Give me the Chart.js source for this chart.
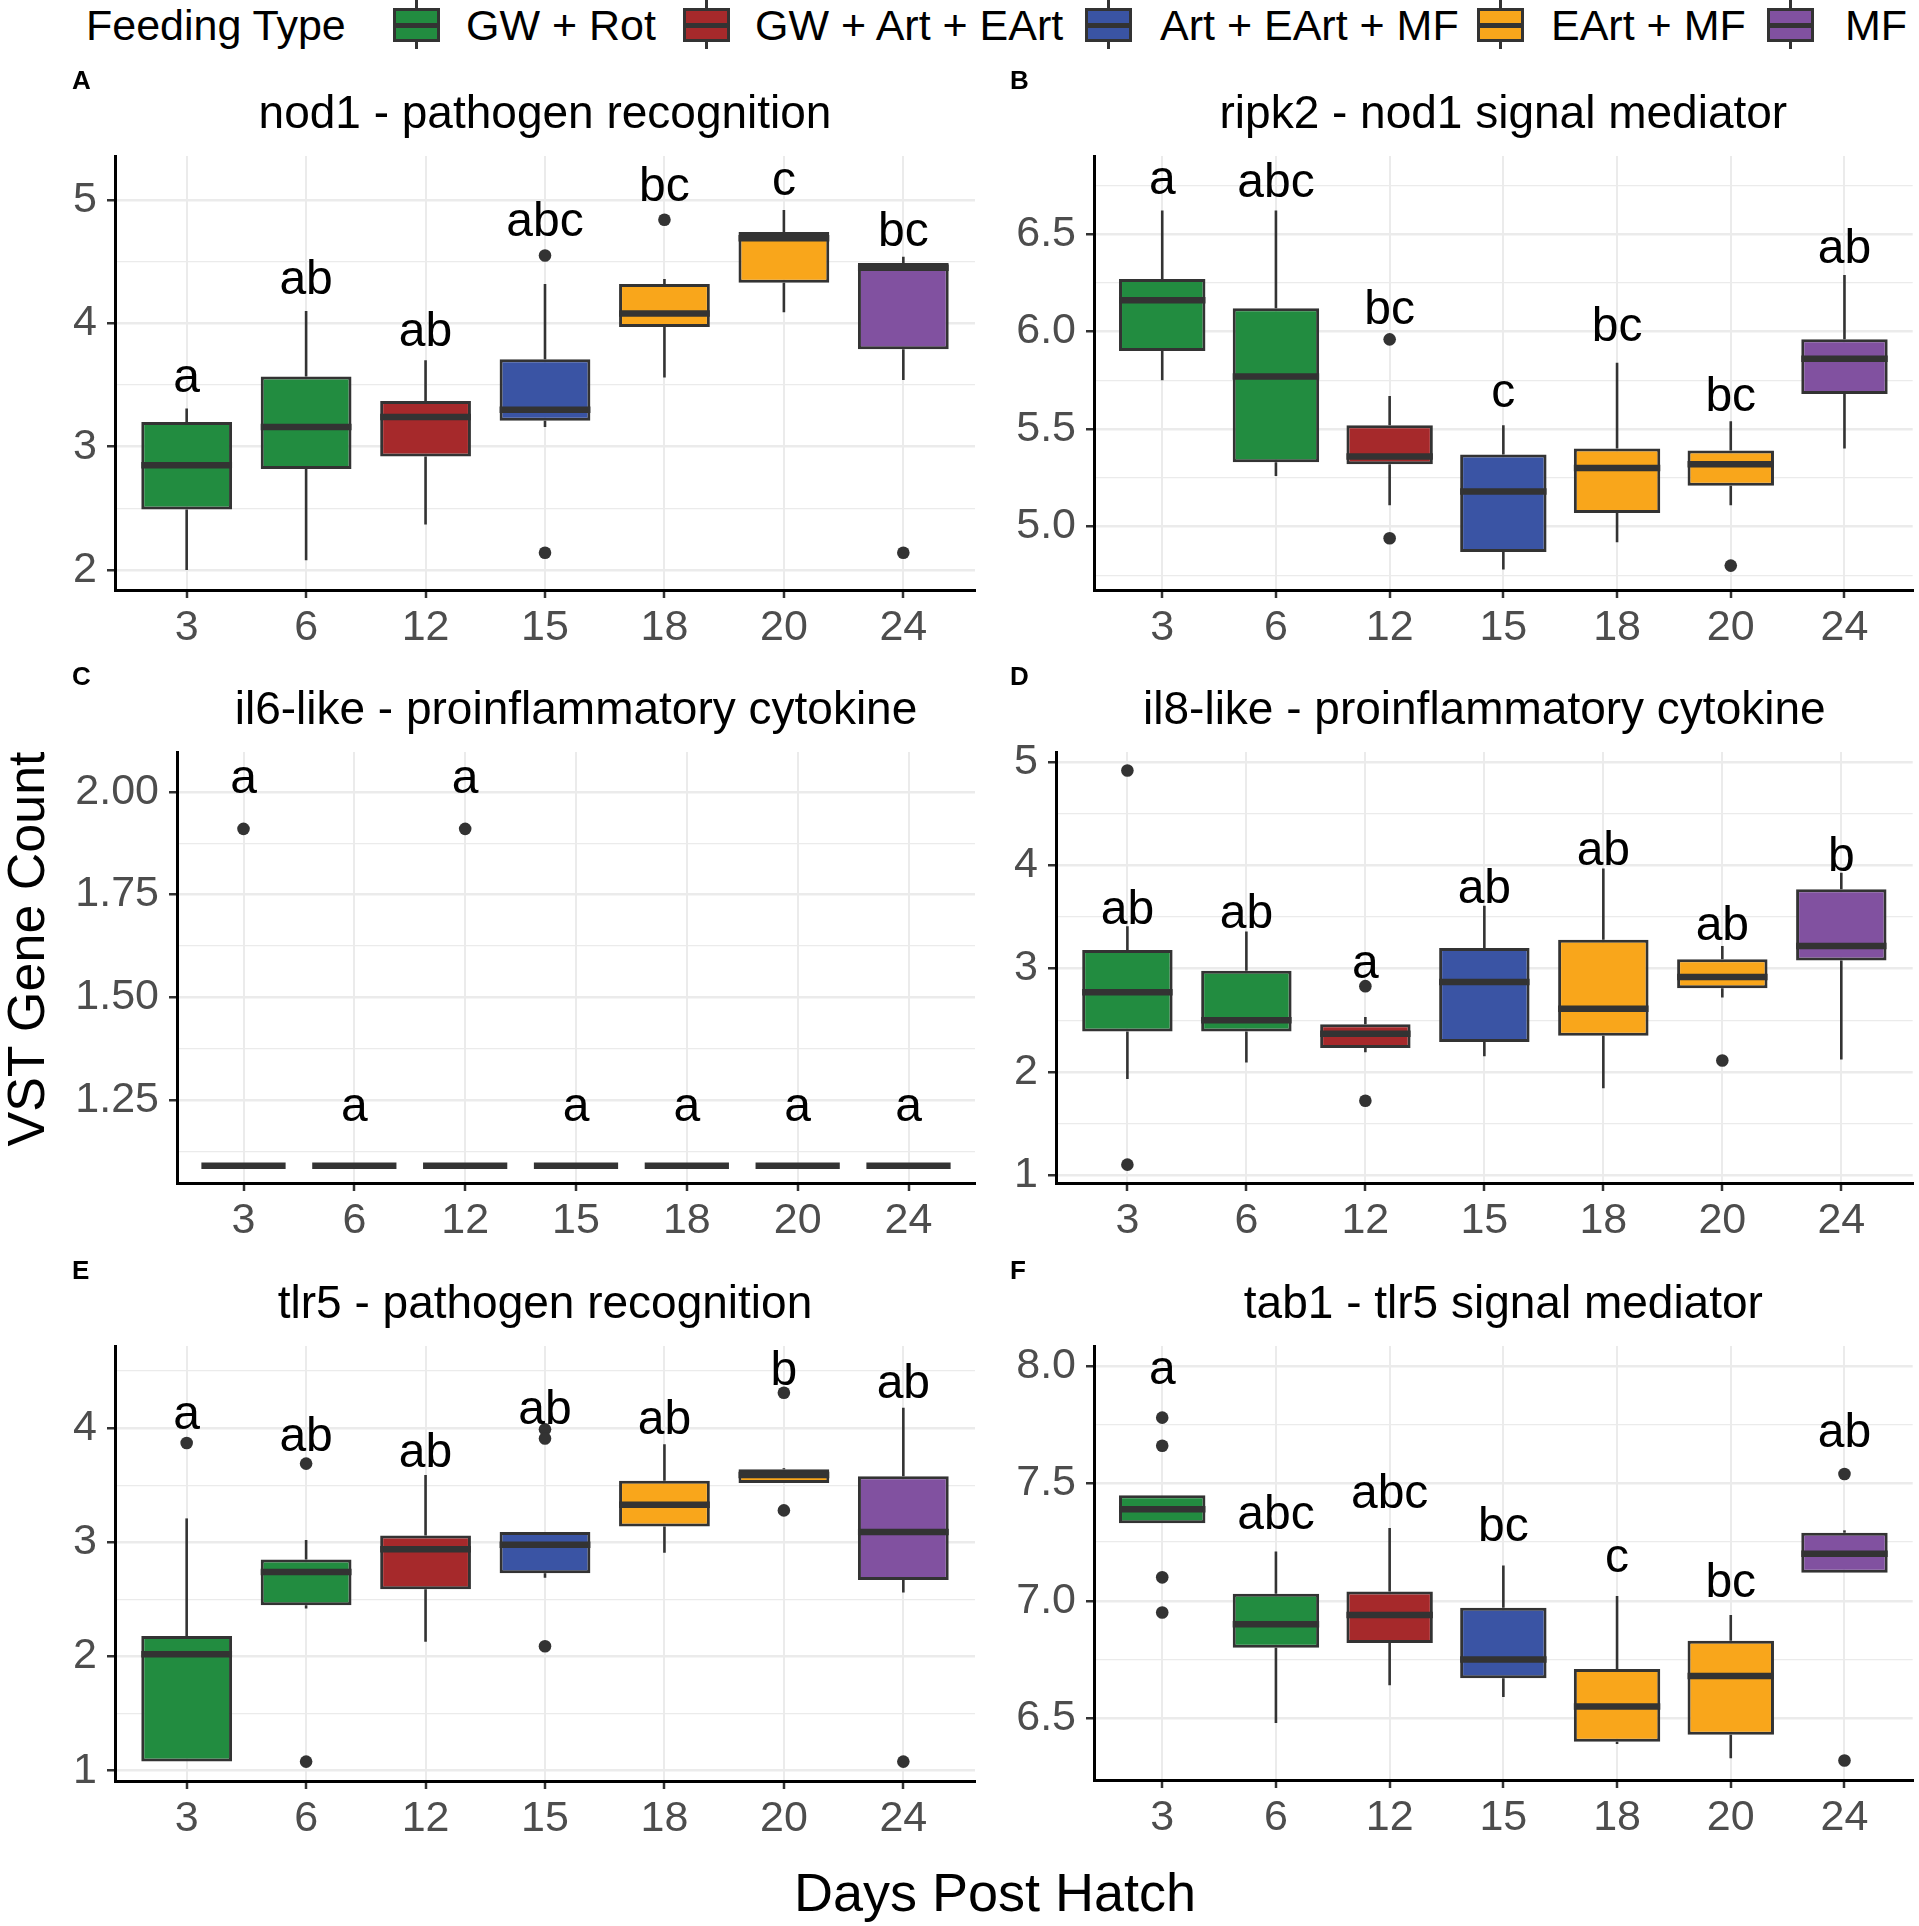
<!DOCTYPE html>
<html>
<head>
<meta charset="utf-8">
<title>Immune gene expression by days post hatch</title>
<script src="https://cdn.jsdelivr.net/npm/chart.js@4.4.1/dist/chart.umd.min.js"></script>
<style>
  body { margin: 0; width: 1919px; height: 1926px; position: relative; overflow: hidden; background: #fff;
         font-family: "Liberation Sans", Arial, sans-serif; color: #000; }
  .txt { position: absolute; white-space: nowrap; line-height: 1; }
  .key { position: absolute; top: 0; width: 47px; height: 49px; }
  .key .wh { position: absolute; left: 22px; top: 0; width: 3px; height: 49px; background: #333; }
  .key .bx { position: absolute; left: 0; top: 8px; width: 47px; height: 34px; box-sizing: border-box; border: 3px solid #333; }
  .key .md { position: absolute; left: 0; top: 23px; width: 47px; height: 4.5px; background: #333; }
  canvas { position: absolute; }
</style>
</head>
<body>
<div class="txt" id="ytitle" style="font-size:52px; width:440px; left:-194px; top:923px; text-align:center; transform:rotate(-90deg);">VST Gene Count</div>
<div class="txt" id="xtitle" style="font-size:54px; width:600px; left:695px; top:1865px; text-align:center;">Days Post Hatch</div>
<script>
'use strict';

var days = ['3', '6', '12', '15', '18', '20', '24'];
var feedTypes = ['GW + Rot', 'GW + Art + EArt', 'Art + EArt + MF', 'EArt + MF', 'MF'];
var feedColors = ['#228C40', '#A6292B', '#3A54A4', '#F9A61B', '#8151A0'];
var dayFeed = [0, 0, 1, 2, 3, 3, 4];

// A - nod1
var nod1Low  = [2.00, 2.08, 2.37, 3.16, 3.56, 4.09, 3.54];
var nod1Q1   = [2.49, 2.82, 2.92, 3.21, 3.97, 4.33, 3.79];
var nod1Med  = [2.85, 3.16, 3.24, 3.30, 4.08, 4.69, 4.45];
var nod1Q3   = [3.20, 3.57, 3.37, 3.71, 4.32, 4.74, 4.49];
var nod1High = [3.31, 4.10, 3.70, 4.32, 4.36, 4.92, 4.54];
var nod1Out  = [[3, 4.55], [3, 2.14], [4, 4.84], [6, 2.14]];
var nod1Letters = ['a', 'ab', 'ab', 'abc', 'bc', 'c', 'bc'];
var nod1LetterY = [3.55, 4.38, 3.96, 4.85, 5.13, 5.15, 4.77];
var nod1Major = [2, 3, 4, 5];
var nod1Minor = [2.5, 3.5, 4.5];

// B - ripk2
var ripk2Low  = [5.75, 5.26, 5.11, 4.78, 4.92, 5.11, 5.40];
var ripk2Q1   = [5.90, 5.33, 5.32, 4.87, 5.07, 5.21, 5.68];
var ripk2Med  = [6.16, 5.77, 5.36, 5.18, 5.30, 5.32, 5.86];
var ripk2Q3   = [6.27, 6.12, 5.52, 5.37, 5.40, 5.39, 5.96];
var ripk2High = [6.62, 6.62, 5.67, 5.52, 5.84, 5.54, 6.29];
var ripk2Out  = [[2, 5.96], [2, 4.94], [5, 4.80]];
var ripk2Letters = ['a', 'abc', 'bc', 'c', 'bc', 'bc', 'ab'];
var ripk2LetterY = [6.77, 6.78, 6.13, 5.68, 6.04, 5.68, 6.44];
var ripk2Major = [5.0, 5.5, 6.0, 6.5];
var ripk2Minor = [4.75, 5.25, 5.75, 6.25, 6.75];

// C - il6-like
var il6Low  = [1.09, 1.09, 1.09, 1.09, 1.09, 1.09, 1.09];
var il6Q1   = [1.09, 1.09, 1.09, 1.09, 1.09, 1.09, 1.09];
var il6Med  = [1.09, 1.09, 1.09, 1.09, 1.09, 1.09, 1.09];
var il6Q3   = [1.09, 1.09, 1.09, 1.09, 1.09, 1.09, 1.09];
var il6High = [1.09, 1.09, 1.09, 1.09, 1.09, 1.09, 1.09];
var il6Out  = [[0, 1.91], [2, 1.91]];
var il6Letters = ['a', 'a', 'a', 'a', 'a', 'a', 'a'];
var il6LetterY = [2.03, 1.23, 2.03, 1.23, 1.23, 1.23, 1.23];
var il6Major = [1.25, 1.50, 1.75, 2.00];
var il6Minor = [1.125, 1.375, 1.625, 1.875];

// D - il8-like
var il8Low  = [1.93, 2.09, 2.19, 2.15, 1.84, 2.72, 2.12];
var il8Q1   = [2.39, 2.39, 2.23, 2.29, 2.35, 2.81, 3.08];
var il8Med  = [2.77, 2.50, 2.37, 2.87, 2.61, 2.92, 3.22];
var il8Q3   = [3.18, 2.98, 2.46, 3.20, 3.28, 3.09, 3.77];
var il8High = [3.41, 3.36, 2.53, 3.61, 3.97, 3.22, 3.93];
var il8Out  = [[0, 4.92], [0, 1.10], [2, 2.83], [2, 1.72], [5, 2.11]];
var il8Letters = ['ab', 'ab', 'a', 'ab', 'ab', 'ab', 'b'];
var il8LetterY = [3.60, 3.56, 3.04, 3.81, 4.17, 3.45, 4.12];
var il8Major = [1, 2, 3, 4, 5];
var il8Minor = [1.5, 2.5, 3.5, 4.5];

// E - tlr5
var tlr5Low  = [1.08, 2.42, 2.13, 2.69, 2.91, 3.52, 2.56];
var tlr5Q1   = [1.08, 2.45, 2.59, 2.73, 3.14, 3.52, 2.67];
var tlr5Med  = [2.02, 2.74, 2.94, 2.98, 3.33, 3.59, 3.09];
var tlr5Q3   = [2.18, 2.85, 3.06, 3.09, 3.54, 3.64, 3.58];
var tlr5High = [3.21, 3.02, 3.59, 3.09, 3.86, 3.65, 4.18];
var tlr5Out  = [[0, 3.87], [1, 3.69], [1, 1.08], [3, 3.99], [3, 3.91], [3, 2.09], [5, 4.31], [5, 3.28], [6, 1.08]];
var tlr5Letters = ['a', 'ab', 'ab', 'ab', 'ab', 'b', 'ab'];
var tlr5LetterY = [4.11, 3.95, 3.81, 4.19, 4.10, 4.53, 4.42];
var tlr5Major = [1, 2, 3, 4];
var tlr5Minor = [1.5, 2.5, 3.5, 4.5];

// F - tab1
var tab1Low  = [7.33, 6.48, 6.64, 6.59, 6.39, 6.33, 7.12];
var tab1Q1   = [7.33, 6.80, 6.82, 6.67, 6.40, 6.43, 7.12];
var tab1Med  = [7.39, 6.90, 6.94, 6.75, 6.55, 6.68, 7.20];
var tab1Q3   = [7.45, 7.03, 7.04, 6.97, 6.71, 6.83, 7.29];
var tab1High = [7.45, 7.21, 7.31, 7.15, 7.02, 6.94, 7.30];
var tab1Out  = [[0, 7.78], [0, 7.66], [0, 7.10], [0, 6.95], [6, 7.54], [6, 6.32]];
var tab1Letters = ['a', 'abc', 'abc', 'bc', 'c', 'bc', 'ab'];
var tab1LetterY = [7.98, 7.38, 7.47, 7.33, 7.18, 7.09, 7.73];
var tab1Major = [6.5, 7.0, 7.5, 8.0];
var tab1Minor = [6.75, 7.25, 7.75];

var FONT = '"Liberation Sans", Arial, sans-serif';
Chart.defaults.font.family = FONT;

// legend (HTML, top row)
var keyLeft = [393, 683, 1085, 1477, 1767];
var keyTextLeft = [466, 755, 1160, 1551, 1845];
function addText(txt, left, top, size) {
  var d = document.createElement('div');
  d.className = 'txt';
  d.style.cssText = 'left:' + left + 'px;top:' + top + 'px;font-size:' + size + 'px;';
  d.textContent = txt;
  document.body.appendChild(d);
}
addText('Feeding Type', 86, 4, 43);
feedTypes.forEach(function(name, i) {
  var k = document.createElement('div');
  k.className = 'key';
  k.style.left = keyLeft[i] + 'px';
  k.innerHTML = '<div class="wh"></div><div class="bx" style="background:' + feedColors[i] + '"></div><div class="md"></div>';
  document.body.appendChild(k);
  addText(name, keyTextLeft[i], 4, 43);
});

var panels = [
  {id: 'A', title: 'nod1 - pathogen recognition', low: nod1Low, q1: nod1Q1, med: nod1Med, q3: nod1Q3, high: nod1High,
   out: nod1Out, letters: nod1Letters, letterY: nod1LetterY, major: nod1Major, minor: nod1Minor, digits: 0,
   yMin: 1.838, yMax: 5.357, area: [115, 156, 975, 590], col: 0},
  {id: 'B', title: 'ripk2 - nod1 signal mediator', low: ripk2Low, q1: ripk2Q1, med: ripk2Med, q3: ripk2Q3, high: ripk2High,
   out: ripk2Out, letters: ripk2Letters, letterY: ripk2LetterY, major: ripk2Major, minor: ripk2Minor, digits: 1,
   yMin: 4.675, yMax: 6.90, area: [1094, 156, 1919, 590], col: 1},
  {id: 'C', title: 'il6-like - proinflammatory cytokine', low: il6Low, q1: il6Q1, med: il6Med, q3: il6Q3, high: il6High,
   out: il6Out, letters: il6Letters, letterY: il6LetterY, major: il6Major, minor: il6Minor, digits: 2,
   yMin: 1.048, yMax: 2.097, area: [177, 752, 975, 1183], col: 0},
  {id: 'D', title: 'il8-like - proinflammatory cytokine', low: il8Low, q1: il8Q1, med: il8Med, q3: il8Q3, high: il8High,
   out: il8Out, letters: il8Letters, letterY: il8LetterY, major: il8Major, minor: il8Minor, digits: 0,
   yMin: 0.922, yMax: 5.10, area: [1056, 752, 1919, 1183], col: 1},
  {id: 'E', title: 'tlr5 - pathogen recognition', low: tlr5Low, q1: tlr5Q1, med: tlr5Med, q3: tlr5Q3, high: tlr5High,
   out: tlr5Out, letters: tlr5Letters, letterY: tlr5LetterY, major: tlr5Major, minor: tlr5Minor, digits: 0,
   yMin: 0.91, yMax: 4.72, area: [115, 1346, 975, 1781], col: 0},
  {id: 'F', title: 'tab1 - tlr5 signal mediator', low: tab1Low, q1: tab1Q1, med: tab1Med, q3: tab1Q3, high: tab1High,
   out: tab1Out, letters: tab1Letters, letterY: tab1LetterY, major: tab1Major, minor: tab1Minor, digits: 1,
   yMin: 6.237, yMax: 8.085, area: [1094, 1346, 1919, 1780], col: 1}
];

var TOP_PAD = 110, X_AXIS_H = 70;
var colEdges = [[0, 985], [985, 1919]];
var labelX = [72, 1010];

// whiskers, medians, group letters, titles
function boxExtras(p, canvasLeft) {
  return {
    id: 'boxExtras',
    beforeDatasetsDraw: function(chart) {
      var xs = chart.scales.x, ys = chart.scales.y, ctx = chart.ctx;
      ctx.save();
      ctx.strokeStyle = '#333333';
      ctx.lineWidth = 2.6;
      days.forEach(function(d, i) {
        var x = xs.getPixelForValue(i);
        ctx.beginPath();
        ctx.moveTo(x, ys.getPixelForValue(p.high[i]));
        ctx.lineTo(x, ys.getPixelForValue(p.q3[i]));
        ctx.moveTo(x, ys.getPixelForValue(p.q1[i]));
        ctx.lineTo(x, ys.getPixelForValue(p.low[i]));
        ctx.stroke();
      });
      ctx.restore();
    },
    afterDatasetDraw: function(chart, args) {
      if (args.index !== 0) return;
      var ys = chart.scales.y, ctx = chart.ctx;
      ctx.save();
      ctx.strokeStyle = '#333333';
      ctx.lineWidth = 6.5;
      chart.getDatasetMeta(0).data.forEach(function(bar, i) {
        var b = bar.getProps(['x', 'width'], true);
        var y = ys.getPixelForValue(p.med[i]);
        ctx.beginPath();
        ctx.moveTo(b.x - b.width / 2, y);
        ctx.lineTo(b.x + b.width / 2, y);
        ctx.stroke();
      });
      ctx.restore();
    },
    afterDraw: function(chart) {
      var xs = chart.scales.x, ys = chart.scales.y, ctx = chart.ctx, area = chart.chartArea;
      ctx.save();
      ctx.fillStyle = '#000';
      ctx.textBaseline = 'alphabetic';
      ctx.textAlign = 'center';
      ctx.font = '48px ' + FONT;
      p.letters.forEach(function(t, i) {
        var m = ctx.measureText(t);
        ctx.fillText(t, xs.getPixelForValue(i), ys.getPixelForValue(p.letterY[i]) + m.actualBoundingBoxAscent / 2);
      });
      ctx.font = '46px ' + FONT;
      ctx.fillText(p.title, (area.left + area.right) / 2, area.top - 28);
      ctx.textAlign = 'left';
      ctx.font = 'bold 26px ' + FONT;
      ctx.fillText(p.id, labelX[p.col] - canvasLeft, area.top - 67);
      ctx.restore();
    }
  };
}

panels.forEach(function(p) {
  var left = colEdges[p.col][0], right = colEdges[p.col][1];
  var w = right - left;
  var top = p.area[1] - TOP_PAD;
  var h = p.area[3] - p.area[1] + TOP_PAD + X_AXIS_H;
  var yAxisW = p.area[0] - left;
  var cv = document.createElement('canvas');
  cv.width = w;
  cv.height = h;
  cv.style.cssText = 'left:' + left + 'px;top:' + top + 'px;width:' + w + 'px;height:' + h + 'px;';
  document.body.appendChild(cv);

  var isMajor = function(v) { return p.major.indexOf(v) >= 0; };

  new Chart(cv, {
    type: 'bar',
    data: {
      datasets: [{
        type: 'bar',
        data: days.map(function(d, i) { return {x: i, y: [p.q1[i], p.q3[i]]}; }),
        backgroundColor: days.map(function(d, i) { return feedColors[dayFeed[i]]; }),
        borderColor: '#333333',
        borderWidth: 3,
        borderSkipped: false,
        barPercentage: 0.76,
        categoryPercentage: 1
      }, {
        type: 'scatter',
        data: p.out.map(function(o) { return {x: o[0], y: o[1]}; }),
        pointRadius: 6.3,
        pointHoverRadius: 6.3,
        pointBackgroundColor: '#333333',
        pointBorderWidth: 0
      }]
    },
    options: {
      responsive: false,
      animation: false,
      devicePixelRatio: 1,
      events: [],
      layout: {padding: {top: TOP_PAD, right: right - p.area[2], bottom: 0, left: 0}},
      plugins: {legend: {display: false}, tooltip: {enabled: false}},
      scales: {
        x: {
          type: 'linear',
          min: -0.6,
          max: 6.6,
          offset: false,
          afterBuildTicks: function(s) { s.ticks = days.map(function(d, i) { return {value: i}; }); },
          afterFit: function(s) { s.height = X_AXIS_H; },
          ticks: {
            callback: function(v) { return days[v]; },
            color: '#4D4D4D',
            font: {size: 43},
            padding: 4,
            autoSkip: false,
            maxRotation: 0
          },
          grid: {offset: false, color: '#EBEBEB', lineWidth: 2, tickLength: 8, tickWidth: 2.5, tickColor: '#333333'},
          border: {display: true, color: '#000', width: 3}
        },
        y: {
          type: 'linear',
          min: p.yMin,
          max: p.yMax,
          afterBuildTicks: function(s) {
            s.ticks = p.major.concat(p.minor).sort(function(a, b) { return a - b; })
              .map(function(v) { return {value: v}; });
          },
          afterFit: function(s) { s.width = yAxisW; },
          ticks: {
            callback: function(v) { return isMajor(v) ? v.toFixed(p.digits) : ''; },
            color: '#4D4D4D',
            font: {size: 43},
            padding: 10,
            autoSkip: false
          },
          grid: {
            color: '#EBEBEB',
            lineWidth: function(c) { return c.tick && isMajor(c.tick.value) ? 2.5 : 1.3; },
            tickLength: 8,
            tickWidth: 2.5,
            tickColor: function(c) { return c.tick && isMajor(c.tick.value) ? '#333333' : 'rgba(0,0,0,0)'; }
          },
          border: {display: true, color: '#000', width: 3}
        }
      }
    },
    plugins: [boxExtras(p, left)]
  });
});
</script>
</body>
</html>
